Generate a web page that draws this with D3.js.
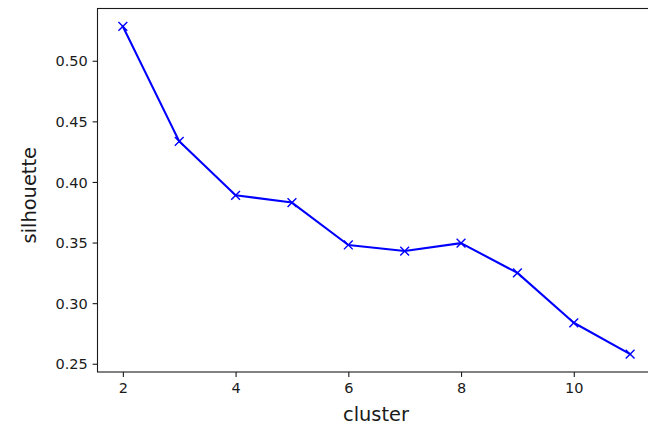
<!DOCTYPE html>
<html>
<head>
<meta charset="utf-8">
<script src="https://cdn.jsdelivr.net/npm/d3@7"></script>
<style>
  html, body { margin: 0; padding: 0; background: #fff; }
  svg { display: block; font-family: "DejaVu Sans", sans-serif; }
</style>
</head>
<body>
<svg id="chart" width="648" height="428"></svg>
<script>
// Silhouette score for each number of clusters
const clusters = [2, 3, 4, 5, 6, 7, 8, 9, 10, 11];
const silhouette = [0.5283, 0.4335, 0.389, 0.383, 0.348, 0.343, 0.3495, 0.325, 0.2838, 0.258];
const xTicks = [2, 4, 6, 8, 10];
const yTicks = [0.25, 0.30, 0.35, 0.40, 0.45, 0.50];

const svg = d3.select("#chart");
const plot = { left: 97.5, top: 8.5, right: 655.5, bottom: 372 };

const x = d3.scaleLinear().domain([1.55, 11.45]).range([plot.left, plot.right]);
const y = d3.scaleLinear().domain([0.2432, 0.5431]).range([plot.bottom, plot.top]);

const tickLen = 4.9, tickPad = 4.9;
const ink = "#1a1a1a";
const tickFont = 14.5;

// x axis
const xAxis = d3.axisBottom(x).tickValues(xTicks).tickFormat(d3.format("d"))
  .tickSizeInner(tickLen).tickSizeOuter(0).tickPadding(tickPad);
const gx = svg.append("g").attr("transform", `translate(0,${plot.bottom})`).call(xAxis);
gx.select(".domain").remove();
gx.selectAll("line").attr("stroke", ink).attr("stroke-width", 1.1);
gx.selectAll("text").attr("fill", ink).attr("font-size", tickFont)
  .attr("font-family", "DejaVu Sans").attr("dy", "0.76em");

// y axis
const yAxis = d3.axisLeft(y).tickValues(yTicks).tickFormat(d3.format(".2f"))
  .tickSizeInner(tickLen).tickSizeOuter(0).tickPadding(tickPad);
const gy = svg.append("g").attr("transform", `translate(${plot.left},0)`).call(yAxis);
gy.select(".domain").remove();
gy.selectAll("line").attr("stroke", ink).attr("stroke-width", 1.1);
gy.selectAll("text").attr("fill", ink).attr("font-size", tickFont)
  .attr("font-family", "DejaVu Sans").attr("dy", "0.36em");

// frame (spines)
svg.append("rect")
  .attr("x", plot.left).attr("y", plot.top)
  .attr("width", plot.right - plot.left).attr("height", plot.bottom - plot.top)
  .attr("fill", "none").attr("stroke", ink).attr("stroke-width", 1.1);

// line
const pts = clusters.map((c, i) => [c, silhouette[i]]);
svg.append("path")
  .datum(pts)
  .attr("fill", "none")
  .attr("stroke", "#0000ff")
  .attr("stroke-width", 2.1)
  .attr("stroke-linejoin", "round")
  .attr("stroke-linecap", "square")
  .attr("d", d3.line().x(d => x(d[0])).y(d => y(d[1])));

// x markers
const m = 4.4;
svg.append("g").selectAll("path")
  .data(pts)
  .join("path")
  .attr("d", d => {
    const cx = x(d[0]), cy = y(d[1]);
    return `M${cx - m},${cy - m}L${cx + m},${cy + m}M${cx - m},${cy + m}L${cx + m},${cy - m}`;
  })
  .attr("stroke", "#0000ff")
  .attr("stroke-width", 1.4)
  .attr("fill", "none");

// axis labels
svg.append("text")
  .attr("x", 376)
  .attr("y", 421)
  .attr("text-anchor", "middle")
  .attr("font-size", 19.4)
  .attr("fill", ink)
  .text("cluster");

svg.append("text")
  .attr("transform", `translate(35.5,${(plot.top + plot.bottom) / 2 + 5}) rotate(-90)`)
  .attr("text-anchor", "middle")
  .attr("font-size", 19.4)
  .attr("fill", ink)
  .text("silhouette");
</script>
</body>
</html>
